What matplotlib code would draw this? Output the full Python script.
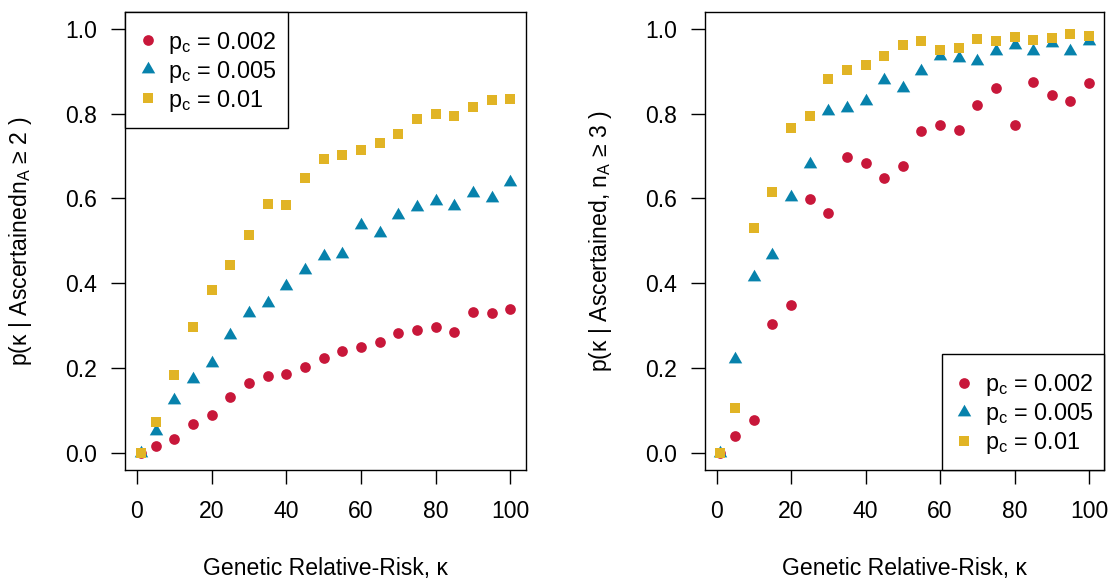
import numpy as np
import matplotlib
matplotlib.use("Agg")
import matplotlib.pyplot as plt
from matplotlib.patches import Rectangle

plt.rcParams['font.family'] = ['Liberation Sans', 'DejaVu Sans']
plt.rcParams['mathtext.fontset'] = 'custom'
plt.rcParams['mathtext.rm'] = 'Liberation Sans'
plt.rcParams['mathtext.it'] = 'Liberation Sans:italic'
plt.rcParams['mathtext.default'] = 'rm'

# genetic relative risk values
kappa = [1, 5, 10, 15, 20, 25, 30, 35, 40, 45, 50,
         55, 60, 65, 70, 75, 80, 85, 90, 95, 100]

# left panel: n_A >= 2
left_002 = [0.0, 0.016, 0.033, 0.068, 0.090, 0.132, 0.164, 0.182, 0.186, 0.203, 0.225,
            0.240, 0.250, 0.261, 0.282, 0.289, 0.296, 0.286, 0.332, 0.329, 0.339]
left_005 = [0.0, 0.051, 0.124, 0.174, 0.213, 0.278, 0.331, 0.354, 0.393, 0.431, 0.464,
            0.469, 0.537, 0.519, 0.561, 0.580, 0.594, 0.581, 0.612, 0.601, 0.638]
left_01 = [0.0, 0.072, 0.183, 0.296, 0.385, 0.442, 0.513, 0.586, 0.585, 0.649, 0.692,
           0.702, 0.713, 0.731, 0.752, 0.788, 0.798, 0.794, 0.816, 0.832, 0.835]

# right panel: n_A >= 3
right_002 = [0.0, 0.040, 0.079, 0.303, 0.349, 0.598, 0.566, 0.697, 0.683, 0.648, 0.676,
             0.758, 0.772, 0.761, 0.819, 0.861, 0.772, 0.875, 0.843, 0.830, 0.871]
right_005 = [0.0, 0.222, 0.416, 0.467, 0.603, 0.681, 0.805, 0.813, 0.829, 0.879, 0.860,
             0.900, 0.936, 0.932, 0.925, 0.947, 0.962, 0.947, 0.966, 0.947, 0.972]
right_01 = [0.0, 0.107, 0.531, 0.614, 0.765, 0.794, 0.882, 0.902, 0.914, 0.936, 0.961,
            0.971, 0.949, 0.955, 0.976, 0.971, 0.981, 0.974, 0.979, 0.987, 0.982]

labels = [r"$p_c$ = 0.002", r"$p_c$ = 0.005", r"$p_c$ = 0.01"]
colors = ["#C8173A", "#0782AC", "#E1B425"]

# equilateral triangle like R pch 17, centred on its centroid
tri = [(-1, -0.577), (1, -0.577), (0, 1.155), (-1, -0.577)]
markers = ["o", tri, "s"]
sizes = [7.7, 11.2, 7.9]

FS = 16.6
W, H = 1112, 582

fig = plt.figure(figsize=(W / 100, H / 100), dpi=100)
ax1 = fig.add_axes([0.1127, 0.1924, 0.3601, 0.7875])
ax2 = fig.add_axes([0.634, 0.1924, 0.3591, 0.7875])


def draw_legend(ax, box_x, box_y, box_w, box_h):
    # box given in axes fraction; inner layout in pixels like R legend()
    aw = ax.get_position().width * W
    ah = ax.get_position().height * H
    ax.add_patch(Rectangle((box_x, box_y), box_w, box_h, transform=ax.transAxes,
                           facecolor="white", edgecolor="black", linewidth=1.0,
                           clip_on=False, zorder=5))
    top = box_y + box_h
    for i, (c, m, s, lab) in enumerate(zip(colors, markers, sizes, labels)):
        yy = top - (28.7 + 29.0 * i) / ah
        ax.plot([box_x + 22.4 / aw], [yy], transform=ax.transAxes, linestyle="none",
                marker=m, markersize=s, color=c, markeredgewidth=0,
                clip_on=False, zorder=6)
        ax.text(box_x + 43.0 / aw, yy - 8.4 / ah, lab, transform=ax.transAxes,
                fontsize=FS + 0.2, va="baseline", ha="left", zorder=6)


def draw_panel(ax, series, ylab):
    for vals, c, m, s in zip(series, colors, markers, sizes):
        ax.plot(kappa, vals, linestyle="none", marker=m, markersize=s,
                color=c, markeredgewidth=0)
    ax.set_xlim(-3.1, 104.1)
    ax.set_ylim(-0.04, 1.04)
    ax.set_xticks([0, 20, 40, 60, 80, 100])
    ax.set_yticks([0.0, 0.2, 0.4, 0.6, 0.8, 1.0])
    ax.set_yticklabels(["0.0", "0.2", "0.4", "0.6", "0.8", "1.0"])
    ax.tick_params(direction="out", length=10, width=1.0, labelsize=FS)
    ax.tick_params(axis="x", pad=11.5)
    ax.tick_params(axis="y", pad=10.3)
    for sp in ax.spines.values():
        sp.set_linewidth(1.0)
    ax.set_xlabel("Genetic Relative-Risk, κ", fontsize=FS)
    ax.xaxis.label.set_va("center")
    ax.xaxis.set_label_coords(0.5, -0.214)
    ax.set_ylabel(ylab, fontsize=FS)
    ax.yaxis.label.set_va("center")
    ax.yaxis.set_label_coords(-0.261, 0.5)


draw_panel(ax1, [left_002, left_005, left_01], r"p(κ | Ascertained$n_A$ ≥ 2 )")
draw_panel(ax2, [right_002, right_005, right_01], r"p(κ | Ascertained, $n_A$ ≥ 3 )")

draw_legend(ax1, 0.0, 0.7469, 0.4071, 1 - 0.7469)
draw_legend(ax2, 0.5928, 0.0, 1 - 0.5928, 0.2531)

fig.savefig("out.png", dpi=100)
